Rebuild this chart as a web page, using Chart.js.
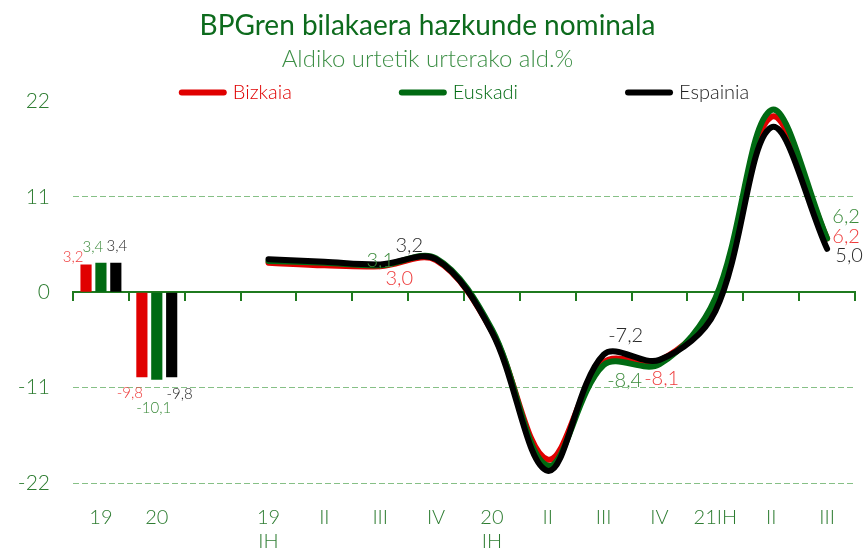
<!DOCTYPE html>
<html><head><meta charset="utf-8">
<script src="https://cdn.jsdelivr.net/npm/chart.js@4"></script>
<style>html,body{margin:0;padding:0;background:#fff}#wrap{width:863px;height:554px}</style>
</head><body><div id="wrap"><canvas id="c" width="863" height="554"></canvas></div>
<script>
// ---- data ----
const categories = ['19', '20', '', ['19', 'IH'], 'II', 'III', 'IV', ['20', 'IH'], 'II', 'III', 'IV', '21IH', 'II', 'III'];
const yTickValues = [-22, -11, 0, 11, 22];
const seriesNames = ['Bizkaia', 'Euskadi', 'Espainia'];
const bizkaiaAnnual = [3.2, -9.8];
const euskadiAnnual = [3.4, -10.1];
const espainiaAnnual = [3.4, -9.8];
const bizkaiaQuarterly = [3.4, 3.1, 3.0, 3.7, -4.5, -19.3, -8.1, -7.9, -1.5, 20.2, 6.2];
const euskadiQuarterly = [3.6, 3.4, 3.1, 3.9, -4.3, -20.0, -8.4, -8.3, -0.7, 21.0, 6.2];
const espainiaQuarterly = [3.8, 3.5, 3.2, 3.8, -4.6, -20.6, -7.2, -7.8, -2.2, 19.0, 5.0];

// ---- styles ----
const RED = '#E00000', GREEN = '#006A12', BLACK = '#000000';
const LBL_RED = '#EE3B3B', LBL_GREEN = '#3A8A3A', LBL_BLACK = '#2a2a2a';
const AXIS_GREEN = '#2E7D32';
const FONT = 'Lato';
Chart.defaults.font.family = FONT;

const n = categories.length;
const barData = a => categories.map((_, i) => i < a.length ? a[i] : null);
const lineData = a => categories.map((_, i) => i >= n - a.length ? a[i - (n - a.length)] : null);

const fmt = v => v.toFixed(1).replace('.', ',');

// label placement: [datasetIndex, dataIndex, dx, dy, color, size]
const labelSpecs = [
  [0, 0, -13, -7, LBL_RED, 15], [1, 0, -8, -16, LBL_GREEN, 15], [2, 0, 1, -17, LBL_BLACK, 15],
  [0, 1, -12, 16, LBL_RED, 15], [1, 1, -3, 28, LBL_GREEN, 15], [2, 1, 8, 17, LBL_BLACK, 15],
  [4, 5, 0, -5, LBL_GREEN, 20], [5, 5, 29, -19, LBL_BLACK, 20], [3, 5, 19, 12, LBL_RED, 20],
  [5, 9, 22, -19, LBL_BLACK, 20], [4, 9, 21, 15, LBL_GREEN, 20], [3, 9, 58, 16, LBL_RED, 20],
  [4, 13, 19, -22, LBL_GREEN, 20], [3, 13, 19, -2, LBL_RED, 20], [5, 13, 22, 7, LBL_BLACK, 20]
];

const dataLabelPlugin = {
  id: 'dataLabels',
  afterDatasetsDraw(chart) {
    const ctx = chart.ctx;
    ctx.save();
    ctx.textAlign = 'center';
    ctx.textBaseline = 'middle';
    labelSpecs.forEach(([ds, idx, dx, dy, color, size]) => {
      const el = chart.getDatasetMeta(ds).data[idx];
      const v = chart.data.datasets[ds].data[idx];
      if (!el || v == null) return;
      ctx.font = '300 ' + size + 'px ' + FONT;
      ctx.fillStyle = color;
      ctx.fillText(fmt(v), el.x + dx, el.y + dy);
    });
    ctx.restore();
  }
};

const legendPlugin = {
  id: 'customLegend',
  afterDraw(chart) {
    const ctx = chart.ctx;
    const colors = [RED, GREEN, BLACK];
    const textColors = [RED, GREEN, '#222'];
    ctx.save();
    ctx.font = '300 20px ' + FONT;
    const sample = 48, gapT = 6, gapI = 107;
    const widths = seriesNames.map(t => sample + gapT + ctx.measureText(t).width);
    const total = widths.reduce((a, b) => a + b, 0) + gapI * (widths.length - 1);
    let x = (chart.chartArea.left + chart.chartArea.right) / 2 - total / 2;
    const y = chart.chartArea.top - 9;
    seriesNames.forEach((t, i) => {
      ctx.strokeStyle = colors[i];
      ctx.lineWidth = 6;
      ctx.lineCap = 'round';
      ctx.beginPath();
      ctx.moveTo(x + 3, y);
      ctx.lineTo(x + sample - 3, y);
      ctx.stroke();
      ctx.fillStyle = textColors[i];
      ctx.textAlign = 'left';
      ctx.textBaseline = 'middle';
      ctx.fillText(t, x + sample + gapT, y);
      x += widths[i] + gapI;
    });
    ctx.restore();
  }
};

const lineDs = (label, data, color, order) => ({
  type: 'line', label, data: lineData(data), borderColor: color, backgroundColor: color,
  borderWidth: 6, tension: 0.35, pointRadius: 0, pointHoverRadius: 0, fill: false,
  borderCapStyle: 'round', borderJoinStyle: 'round', order
});
const barDs = (label, data, color) => ({
  type: 'bar', label, data: barData(data), backgroundColor: color, borderWidth: 0,
  categoryPercentage: 0.8, barPercentage: 0.75, order: 3
});

new Chart(document.getElementById('c'), {
  type: 'bar',
  data: {
    labels: categories,
    datasets: [
      barDs(seriesNames[0], bizkaiaAnnual, RED),
      barDs(seriesNames[1], euskadiAnnual, GREEN),
      barDs(seriesNames[2], espainiaAnnual, BLACK),
      lineDs(seriesNames[0], bizkaiaQuarterly, RED, 2),
      lineDs(seriesNames[1], euskadiQuarterly, GREEN, 1),
      lineDs(seriesNames[2], espainiaQuarterly, BLACK, 0)
    ]
  },
  options: {
    responsive: false,
    animation: false,
    devicePixelRatio: 1,
    layout: { padding: { left: 0, right: 8, top: 0, bottom: 0 } },
    plugins: {
      legend: { display: false },
      tooltip: { enabled: false },
      title: {
        display: true, text: 'BPGren bilakaera hazkunde nominala', color: '#0D6B1D',
        font: { size: 28, weight: 'normal' }, padding: { top: 9, bottom: 2 }
      },
      subtitle: {
        display: true, text: 'Aldiko urtetik urterako ald.%', color: '#3D8F46',
        font: { size: 24, weight: 300 }, padding: { top: 0, bottom: 28 }
      }
    },
    scales: {
      x: {
        offset: true,
        afterFit: s => { s.height = 71; },
        ticks: { color: AXIS_GREEN, font: { size: 20, weight: 300 }, padding: 23, maxRotation: 0, minRotation: 0, autoSkip: false },
        grid: { display: false, drawTicks: false },
        border: { display: false }
      },
      x2: {
        type: 'category', axis: 'x', labels: categories, position: { y: 0 }, offset: true,
        afterFit: s => { s.height = 0; },
        ticks: { display: false },
        grid: { offset: true, drawOnChartArea: false, drawTicks: true, tickLength: 8, color: '#1F7A1F', lineWidth: 2 },
        border: { display: true, color: '#1F7A1F', width: 2 }
      },
      y: {
        min: -22, max: 22,
        afterBuildTicks: s => { s.ticks = yTickValues.map(v => ({ value: v })); },
        afterFit: s => { s.width = 73; },
        ticks: { color: AXIS_GREEN, font: { size: 21, weight: 300 }, padding: 23 },
        grid: {
          drawTicks: false, lineWidth: 1,
          color: c => (c.tick && (c.tick.value === 0 || c.tick.value === 22)) ? 'rgba(0,0,0,0)' : '#86C086'
        },
        border: { display: false, dash: [6, 3] }
      }
    }
  },
  plugins: [dataLabelPlugin, legendPlugin]
});
</script>
</body></html>
